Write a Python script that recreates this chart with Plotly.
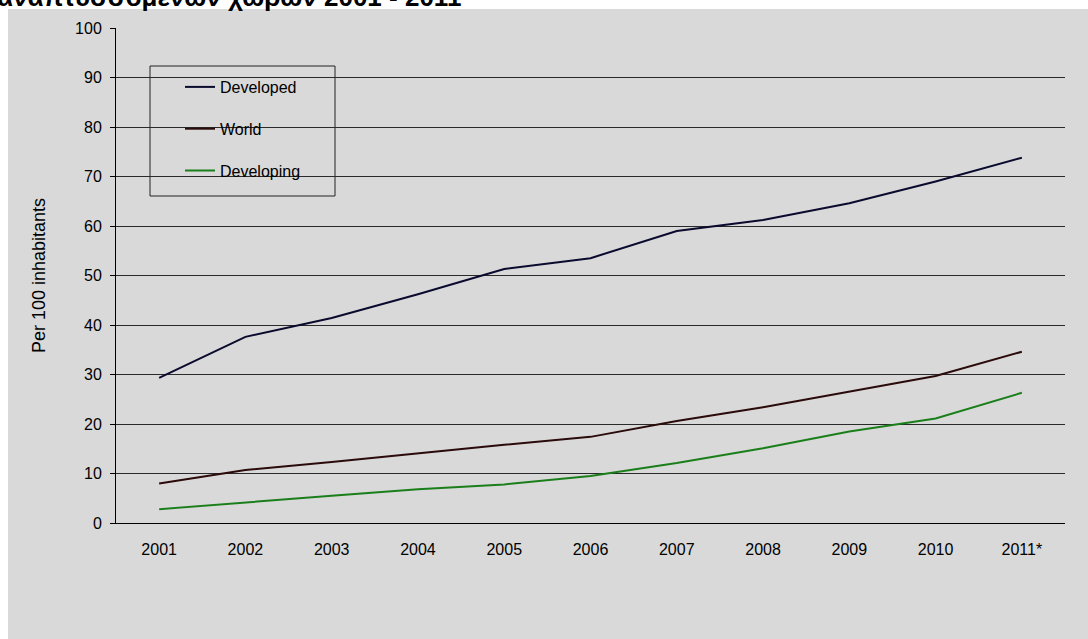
import plotly.graph_objects as go

years = ["2001", "2002", "2003", "2004", "2005", "2006", "2007", "2008", "2009", "2010", "2011*"]
developed = [29.3, 37.6, 41.4, 46.2, 51.3, 53.5, 59.0, 61.2, 64.6, 69.0, 73.8]
world = [8.0, 10.7, 12.3, 14.1, 15.8, 17.4, 20.6, 23.4, 26.6, 29.7, 34.6]
developing = [2.8, 4.2, 5.5, 6.8, 7.8, 9.5, 12.1, 15.1, 18.5, 21.1, 26.3]
y_ticks = [0, 10, 20, 30, 40, 50, 60, 70, 80, 90, 100]

W, H = 1088, 639
L, R, T, B = 116, 1065, 28, 523
pw, ph = R - L, B - T

def px_x(x):
    return (x - L) / pw

def px_y(y):
    return (B - y) / ph

font = "Liberation Sans, Arial, sans-serif"
fig = go.Figure()
series = [("Developed", developed, "#0a0a2e"), ("World", world, "#2a0a0a"), ("Developing", developing, "#1a7f1a")]
for i, (name, vals, col) in enumerate(series):
    fig.add_trace(go.Scatter(x=years, y=vals, name=name, mode="lines",
                             line=dict(color=col, width=2), legendgroup=str(i)))

fig.update_layout(
    width=W, height=H,
    margin=dict(l=L, r=W - R, t=T, b=H - B),
    paper_bgcolor="white", plot_bgcolor="#d9d9d9",
    font=dict(family=font, size=16, color="black"),
    showlegend=True,
    legend=dict(x=px_x(180), y=px_y(70), xanchor="left", yanchor="top",
                bgcolor="rgba(0,0,0,0)", borderwidth=0, tracegroupgap=18,
                font=dict(size=16, family=font), itemwidth=30),
    xaxis=dict(type="category", showgrid=False, showline=True, linecolor="black",
               linewidth=1, ticks="", tickfont=dict(size=16), range=[-0.5, 10.5],
               ticklabelstandoff=12),
    yaxis=dict(range=[0, 100], tickvals=y_ticks, showgrid=True, gridcolor="#2a2a2a",
               gridwidth=1, showline=True, linecolor="black", linewidth=1,
               ticks="outside", ticklen=5, tickcolor="black", tickfont=dict(size=16),
               ticklabelstandoff=5,
               title=dict(text="Per 100 inhabitants", font=dict(size=18), standoff=24),
               zeroline=False),
    shapes=[
        dict(type="rect", xref="paper", yref="paper", x0=px_x(8), x1=px_x(1090),
             y0=px_y(641), y1=px_y(9), fillcolor="#d9d9d9", line=dict(width=0), layer="below"),
        dict(type="rect", xref="paper", yref="paper", x0=px_x(150), x1=px_x(335),
             y0=px_y(196), y1=px_y(66), fillcolor="#d9d9d9", line=dict(color="#222", width=1),
             layer="below"),
    ],
    annotations=[
        dict(text="<b>αναπτυσσόμενων χωρών 2001 - 2011</b>", xref="paper", yref="paper",
             x=px_x(-5), y=px_y(14), xanchor="left", yanchor="bottom", showarrow=False,
             font=dict(family=font, size=26, color="black")),
    ],
)
fig.write_html("out.html")
